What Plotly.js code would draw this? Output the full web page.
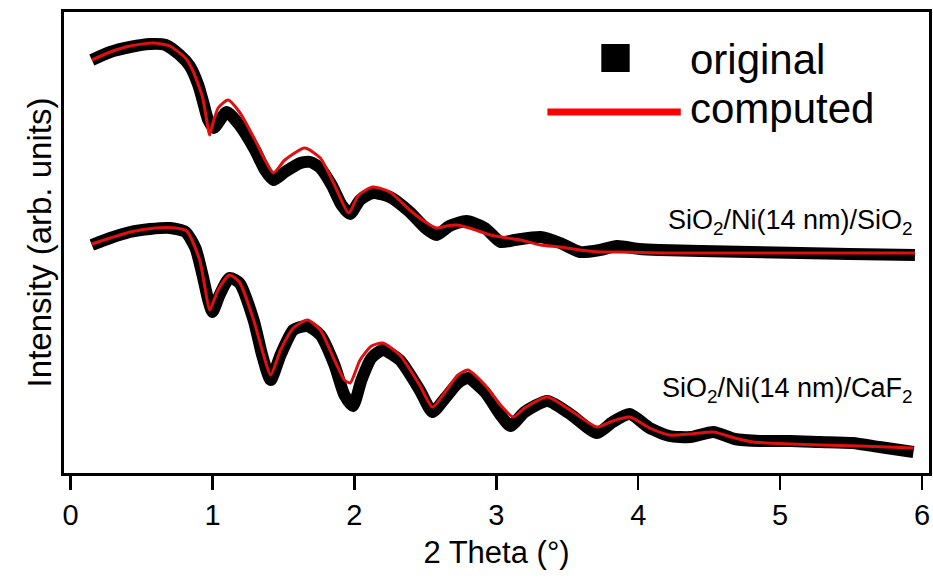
<!DOCTYPE html>
<html>
<head>
<meta charset="utf-8">
<script src="https://cdn.plot.ly/plotly-3.0.1.min.js"></script>
<style>html,body{margin:0;padding:0;background:#fff;}#chart{width:933px;height:579px;}</style>
</head>
<body>
<div id="chart"></div>
<script>
// 2 Theta (degrees) and intensity (arb. units, offset curves)
var sio2OrigX = [0.15,0.28,0.42,0.56,0.67,0.77,0.84,0.90,0.94,0.97,1.01,1.10,1.19,1.30,1.37,1.43,1.51,1.62,1.69,1.76,1.84,1.91,1.97,2.04,2.13,2.25,2.39,2.50,2.58,2.67,2.79,2.92,3.03,3.13,3.31,3.45,3.59,3.73,3.85,4.01,4.15,4.44,4.79,5.14,5.49,5.95];
var sio2OrigY = [413,421,426,429,428,418,407,388,368,353,345,361,348,323,303,293,301,310,311,305,288,268,259,273,280,276,261,245,238,247,252,245,231,233,236,230,221,223,227,224,223,222,221,220,219,218];

var sio2CompX = [0.15,0.28,0.42,0.58,0.70,0.81,0.86,0.93,0.98,0.99,1.04,1.11,1.19,1.30,1.37,1.43,1.51,1.65,1.76,1.86,1.96,2.03,2.13,2.25,2.39,2.50,2.58,2.65,2.72,2.81,2.96,3.08,3.17,3.31,3.45,3.59,3.73,3.87,4.15,4.79,5.49,5.95];
var sio2CompY = [413,421,427,430,427,415,403,376,338,343,365,373,361,333,313,300,313,325,315,288,260,278,286,281,263,251,245,247,248,245,238,235,233,228,226,223,221,221,220,220,220,220];

var caf2OrigX = [0.15,0.28,0.42,0.56,0.70,0.81,0.88,0.93,0.97,1.00,1.05,1.12,1.19,1.29,1.35,1.41,1.48,1.57,1.67,1.76,1.86,1.93,1.99,2.05,2.12,2.20,2.32,2.46,2.55,2.64,2.73,2.80,2.92,3.03,3.10,3.20,3.36,3.52,3.71,3.82,3.94,4.08,4.22,4.37,4.53,4.68,4.86,5.07,5.28,5.51,5.70,5.94];
var caf2OrigY = [228,235,241,244,245,241,225,198,173,161,178,195,190,153,118,93,118,143,147,138,108,78,67,93,115,123,113,83,61,75,90,95,81,58,47,61,72,59,40,51,59,45,37,36,41,34,32,32,31,30,26,21];

var caf2CompX = [0.15,0.28,0.42,0.60,0.74,0.82,0.91,0.95,0.98,1.04,1.12,1.19,1.29,1.36,1.41,1.48,1.57,1.67,1.76,1.86,1.93,1.97,2.04,2.12,2.20,2.32,2.46,2.55,2.64,2.73,2.80,2.92,3.03,3.12,3.20,3.36,3.52,3.71,3.82,3.94,4.08,4.22,4.37,4.53,4.68,4.81,5.07,5.28,5.56,5.94];
var caf2CompY = [229,235,241,245,245,242,213,183,163,183,198,191,153,118,98,123,145,153,143,113,93,90,113,127,130,118,88,66,81,98,103,88,68,56,65,76,63,46,52,56,45,38,39,41,35,31,29,28,27,25];

var xTicks = [0,1,2,3,4,5,6];
var legendNames = ["original","computed"];
var curveLabels = ["SiO<sub>2</sub>/Ni(14 nm)/SiO<sub>2</sub>","SiO<sub>2</sub>/Ni(14 nm)/CaF<sub>2</sub>"];

var FONT = "Liberation Sans, Arial, sans-serif";

function orig(x,y){return {x:x,y:y,type:'scatter',mode:'lines',line:{color:'#000',width:12,shape:'spline',smoothing:0.6},showlegend:false,hoverinfo:'skip'};}
function comp(x,y){return {x:x,y:y,type:'scatter',mode:'lines',line:{color:'#e01010',width:3,shape:'spline',smoothing:0.6},showlegend:false};}

var data = [orig(sio2OrigX,sio2OrigY), orig(caf2OrigX,caf2OrigY), comp(sio2CompX,sio2CompY), comp(caf2CompX,caf2CompY)];

var layout = {
  width:933, height:579,
  margin:{l:64,r:4,t:12,b:106},
  paper_bgcolor:'#fff', plot_bgcolor:'#fff',
  font:{family:FONT,color:'#000'},
  xaxis:{range:[-0.046,6.049], tickvals:xTicks, ticktext:xTicks.map(String), ticks:'outside', ticklen:14, tickwidth:2.5, tickcolor:'#000',
         showline:true, linewidth:3, linecolor:'#000', mirror:true, showgrid:false, zeroline:false,
         tickfont:{size:29,family:FONT}, title:{text:'2 Theta (°)', font:{size:31,family:FONT}, standoff:12}},
  yaxis:{range:[0,461], showticklabels:false, ticks:'', showline:true, linewidth:3, linecolor:'#000', mirror:true, showgrid:false, zeroline:false,
         title:{text:'Intensity (arb. units)', font:{size:33,family:FONT}, standoff:0}},
  shapes:[
    {type:'rect', xref:'x', yref:'y', x0:3.74, x1:3.94, y0:401, y1:429, fillcolor:'#000', line:{width:0}},
    {type:'line', xref:'x', yref:'y', x0:3.36, x1:4.30, y0:361, y1:361, line:{color:'#ff0000', width:7}}
  ],
  annotations:[
    {xref:'x', yref:'y', x:4.35, y:414, text:legendNames[0], showarrow:false, xanchor:'left', yanchor:'middle', font:{size:42,family:FONT}},
    {xref:'x', yref:'y', x:4.35, y:365, text:legendNames[1], showarrow:false, xanchor:'left', yanchor:'middle', font:{size:42,family:FONT}},
    {xref:'x', yref:'y', x:5.95, y:251, text:curveLabels[0], showarrow:false, xanchor:'right', yanchor:'middle', font:{size:27,family:FONT}},
    {xref:'x', yref:'y', x:5.95, y:83, text:curveLabels[1], showarrow:false, xanchor:'right', yanchor:'middle', font:{size:27,family:FONT}}
  ]
};

Plotly.newPlot('chart', data, layout, {staticPlot:true, displayModeBar:false});
</script>
</body>
</html>
